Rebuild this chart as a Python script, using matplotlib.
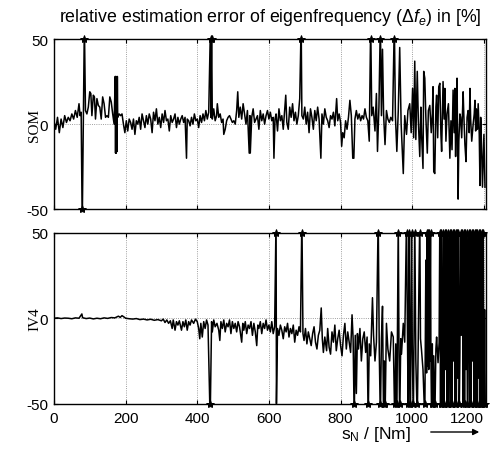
import numpy as np
import matplotlib
matplotlib.use('Agg')
import matplotlib.pyplot as plt

plt.rcParams['font.family'] = ['Liberation Sans', 'DejaVu Sans']
plt.rcParams['mathtext.fontset'] = 'custom'
plt.rcParams['mathtext.rm'] = 'Liberation Sans'
plt.rcParams['mathtext.it'] = 'Liberation Sans:italic'
plt.rcParams['axes.unicode_minus'] = False

# relative error of the eigenfrequency estimate, method SOM  (x in Nm, error in %)
som_nm = [0, 5, 10, 15, 20, 25, 30, 35, 40, 45, 50, 55, 60, 65, 70, 73, 76, 79, 82, 85, 88, 92,
          96, 100, 103, 106, 110, 113, 116, 120, 124, 128, 132, 136, 140, 144, 148, 152, 156,
          160, 164, 168, 171, 172, 173, 174, 175, 176, 177, 178, 182, 186, 190, 194, 198, 202,
          206, 210, 214, 218, 222, 226, 230, 234, 238, 242, 246, 250, 254, 258, 262, 266, 270,
          274, 278, 282, 286, 290, 294, 298, 302, 306, 310, 314, 318, 322, 326, 330, 334, 338,
          342, 346, 350, 354, 358, 362, 366, 370, 372, 376, 380, 384, 388, 392, 396, 400, 404,
          408, 412, 416, 420, 424, 428, 432, 437, 438, 440, 442, 446, 450, 454, 456, 460, 464,
          468, 472, 474, 478, 482, 486, 490, 494, 498, 502, 506, 510, 513, 516, 520, 524, 528,
          532, 536, 540, 545, 547, 548, 552, 556, 560, 564, 568, 572, 576, 580, 584, 588, 592,
          596, 600, 604, 608, 612, 614, 617, 620, 624, 628, 632, 636, 640, 644, 647, 650, 654,
          658, 662, 666, 670, 674, 678, 682, 686, 690, 692, 696, 700, 704, 708, 712, 716, 720,
          724, 728, 732, 736, 740, 745, 748, 752, 756, 760, 764, 768, 772, 776, 780, 784, 789,
          792, 796, 800, 803, 806, 810, 814, 818, 822, 826, 830, 834, 837, 840, 844, 848, 852,
          856, 860, 864, 868, 872, 876, 880, 884, 887, 891, 896, 900, 903, 907, 911, 914, 917,
          920, 924, 928, 932, 936, 940, 945, 950, 953, 957, 961, 965, 969, 975, 979, 984, 988,
          993, 997, 1001, 1004, 1007, 1010, 1014, 1017, 1021, 1024, 1026, 1030, 1032, 1035,
          1038, 1042, 1045, 1049, 1053, 1056, 1058, 1060, 1063, 1066, 1068, 1071, 1074, 1077,
          1080, 1082, 1086, 1089, 1091, 1094, 1097, 1101, 1105, 1108, 1111, 1114, 1117, 1119,
          1121, 1123, 1125, 1128, 1130, 1133, 1135, 1138, 1142, 1144, 1147, 1150, 1153, 1156,
          1159, 1161, 1163, 1166, 1170, 1173, 1175, 1177, 1179, 1182, 1184, 1187, 1189, 1191,
          1193, 1196, 1198, 1200, 1203]
som_err = [2, -3, 4, -5, 3, -2, 5, 1, 4, 2, 6, 3, 8, 4, 12, 5, 7, -60, 3, 60, 8, 6,
           10, 19, 18, 5, 17, 16, 3, 15, 11, 10, 3, 16, 12, 4, 5, 4, 16,
           13, 6, 0, 28, -17, 28, -17, 27, -16, 28, 4, 6, 5, 6, 0, -5, 2,
           -4, 3, 1, -3, 3, -6, 2, 0, 4, -3, 6, 2, -2, 5, 0, 6, 3,
           -5, 7, 2, 9, 0, 4, -2, 6, 1, 8, 2, 3, -4, 5, 1, 3, 6,
           -2, 4, 0, 3, 5, 1, 4, -20, 3, 2, -1, 4, 0, 6, 2, 3, -2,
           5, 1, 6, 2, 8, 3, 7, 60, 4, 60, 3, 9, 2, 5, 12, 4, 6,
           1, 3, -6, -3, 2, 4, 5, 3, 1, 2, 0, 8, 19, 4, 10, 3, 12,
           6, 0, 8, -17, 5, -17, 4, 9, 1, 3, 5, -3, 8, 2, 6, 0, 5,
           8, 3, 7, 2, 4, -20, 3, 6, -4, 9, 2, 5, -3, 8, 17, 1, -3,
           10, 4, 12, 2, 7, 0, 5, 15, 60, 5, 3, 10, 0, 7, -5, 9, 4,
           -3, 8, 2, 10, 3, -20, 6, 0, 9, 4, 2, -2, 5, 3, 7, -1, 15,
           2, 6, 1, -13, -5, -8, 2, -3, 4, 14, 5, -20, -20, 3, 8, 3, 6,
           2, 5, 3, 9, 4, 2, -10, 60, 5, 10, -4, 18, -16, 10, 60, 5, 44,
           6, -12, 8, 3, 1, 4, 2, 60, 5, -16, 8, 45, 0, -29, 5, -6, 8,
           12, -5, 21, -8, 37, -9, 31, 2, -19, 10, -6, -26, 31, 27,
           4, -17, 8, 11, -5, 6, 22, -28, -29, 10, 17, -8, 22, 24,
           -6, -16, 25, 3, 21, -10, 6, 12, -20, 2, -15, 20, -5, 21,
           -19, 8, 27, -44, -10, 6, 4, -8, 19, 5, -12, -22, 4, 8,
           -5, 21, 3, -10, 0, 6, 14, -4, 9, -3, 12, -6, -36, 4,
           -10, -37, -21, -6, -37]

# relative error of the eigenfrequency estimate, method IV4
iv4_nm = [0, 10, 20, 30, 40, 50, 60, 70, 78, 80, 90, 100, 110, 120, 130, 140, 150, 160, 170,
          180, 185, 190, 195, 200, 210, 220, 230, 240, 250, 260, 270, 280, 290, 300, 305, 310,
          315, 320, 325, 330, 333, 338, 342, 346, 350, 356, 360, 364, 368, 372, 376, 380, 384,
          390, 395, 400, 404, 407, 410, 414, 418, 422, 426, 430, 436, 440, 442, 446, 450, 455,
          460, 463, 466, 470, 474, 478, 482, 486, 490, 494, 498, 502, 506, 510, 514, 518, 524,
          527, 530, 534, 538, 542, 546, 550, 554, 558, 562, 566, 569, 572, 576, 580, 584, 588,
          592, 596, 600, 604, 608, 612, 616, 620, 621, 624, 628, 632, 636, 640, 644, 648, 652,
          656, 660, 664, 668, 672, 676, 680, 684, 688, 692, 695, 698, 702, 706, 710, 714, 718,
          722, 726, 730, 734, 738, 742, 746, 749, 752, 756, 761, 764, 768, 772, 776, 780, 784,
          788, 792, 796, 800, 804, 808, 812, 816, 820, 824, 828, 832, 835, 838, 841, 844, 847,
          850, 854, 858, 862, 866, 870, 874, 877, 880, 884, 889, 892, 896, 900, 905, 908, 911,
          914, 917, 920, 922, 924, 928, 932, 937, 942, 947, 951, 954, 957, 961, 963, 965, 968,
          970, 975, 979, 984, 987, 989, 991, 993, 995, 998, 1000, 1003, 1005, 1007, 1010, 1014,
          1017, 1021, 1023, 1026, 1030, 1035, 1038, 1040, 1041, 1042, 1043, 1044, 1046, 1047,
          1049, 1051, 1052, 1054, 1056, 1058, 1060, 1063, 1066, 1068, 1072, 1075, 1077, 1079,
          1081, 1083, 1085, 1087, 1089, 1091, 1093, 1095, 1097, 1099, 1101, 1103, 1105, 1107,
          1109, 1111, 1113, 1115, 1117, 1119, 1121, 1123, 1125, 1127, 1129, 1131, 1133, 1135,
          1137, 1140, 1142, 1144, 1146, 1148, 1150, 1152, 1154, 1156, 1158, 1160, 1162, 1164,
          1166, 1168, 1170, 1172, 1174, 1176, 1178, 1180, 1182, 1184, 1186, 1188, 1190, 1192,
          1194, 1196, 1198, 1200, 1202, 1204]
iv4_err = [0, 0.2, -0.2, 0.1, 0, -0.3, 0.2, 0, 2.5, 0.3, -0.2, 0.1, -0.4, 0, -0.3, 0.2, -0.1, 0.4, 0.2,
           1.2, 0.5, 1.5, 0.8, 0, -0.3, -0.5, -0.2, -0.8, -0.5, -1, -0.6, -1.2, -0.8, -1.5, -0.5, -2.5,
           -1, -3, -1.5, -6, -1, -7, -2, -4, -1.5, -7, -2, -5, -1, -7, -2, -4, -1,
           -3, -0.5, -2, -6, -12, -3, -11, -2, -6, -1, -4, -60, -2, -8, -1, -5, -3,
           -7, -13, -2, -6, -1, -8, -3, -5, -1, -9, -2, -6, -3, -8, -2, -5, -14,
           -3, -7, -2, -9, -4, -6, -2, -10, -3, -8, -16, -4, -6, -2, -9, -3, -6,
           -1, -7, -4, -8, -2, -9, -5, 60, -50, -6, -10, -4, -7, -12, -5, -8, -3,
           -11, -6, -9, -4, -14, -7, -10, -5, -8, 60, -9, -13, -6, -15, -8, -12, -16,
           -9, -5, -14, -18, -10, -7, 6, -12, -20, -11, -19, -6, -17, -21, -8, -14, -4,
           -19, -12, -7, -16, -22, -10, -3, -18, -8, -14, -20, 2, -12, -60, -10, -44, -9,
           -18, -6, -25, -12, -8, -20, -11, -60, -15, -22, 12, -10, -25, -14, 60, -20, -60,
           -12, 7, -60, -25, -60, -3, -18, -25, -8, -11, -60, -15, -60, 60, -20, -60, -12,
           -21, -3, -14, 60, -18, -60, 60, -22, -60, 60, -15, -60, -10, 60, -25, -60,
           -8, 60, -12, -19, -30, -60, 34, -32, 30, 60, -28, 60, -30, 60,
           -25, 60, -20, -60, -15, -60, -22, -60, -18, -11, -26, -14, 60, -60,
           60, -60, -20, 60, -60, 60, -30, 60, -60, 60, -60, -15, 60, -60,
           60, -60, 60, -25, 60, -60, 60, -60, 60, -35, 60, -60, -20, 60,
           -10, 60, -60, 60, -60, 60, -30, 60, -60, 3, 60, -60, 60, -60,
           60, -25, 60, -60, 60, -60, 60, -60, 60, -35, 60, -60, 60, -60,
           60, -60, 60, -60, 5, -60]

x_ticks = [0, 200, 400, 600, 800, 1000, 1200]
y_ticks = [-50, 0, 50]
panel_names = ['SOM', 'IV4']

fig = plt.figure(figsize=(4.92, 4.52), dpi=100)
ax1 = fig.add_axes([0.1096, 0.5347, 0.8776, 0.3768])
ax2 = fig.add_axes([0.1096, 0.1046, 0.8776, 0.3783])

for ax, xs, ys, name in [(ax1, som_nm, som_err, panel_names[0]),
                         (ax2, iv4_nm, iv4_err, panel_names[1])]:
    xs = np.array(xs)
    ys = np.array(ys, dtype=float)
    ax.plot(xs, ys, color='k', lw=1.1)
    hi = ys > 50
    lo = ys < -50
    ax.plot(xs[hi], np.full(hi.sum(), 50.0), ls='none', marker='*', ms=6,
            color='k', mew=0.7, clip_on=False)
    ax.plot(xs[lo], np.full(lo.sum(), -50.0), ls='none', marker='*', ms=6,
            color='k', mew=0.7, clip_on=False)
    ax.set_xlim(0, 1205)
    ax.set_ylim(-50, 50)
    ax.set_xticks(x_ticks)
    ax.set_yticks(y_ticks)
    ax.grid(True, ls=':', color='gray', lw=0.6)
    ax.tick_params(direction='in', top=True, right=True, length=3, labelsize=11, pad=4)
    ax.set_ylabel(name, family='Liberation Serif', fontsize=11)
    ax.yaxis.set_label_coords(-0.03, 0.5)
    for sp in ax.spines.values():
        sp.set_linewidth(1.0)

ax1.set_xticklabels([])
ax2.tick_params(axis='x', pad=5)
labels = ax2.get_xticklabels()
labels[-1].set_horizontalalignment('right')

fig.text(0.549, 0.962, 'relative estimation error of eigenfrequency ($\\Delta f_e$) in [%]',
         ha='center', va='center', fontsize=12.8)
fig.text(0.764, 0.038, '$\\mathrm{s_N}$ / [Nm]', ha='center', va='center', fontsize=12.5)
fig.add_artist(matplotlib.patches.FancyArrowPatch((428 / 492, 1 - 433 / 452), (482 / 492, 1 - 433 / 452),
                                                  transform=fig.transFigure, arrowstyle='-|>',
                                                  mutation_scale=9, color='k', lw=1))

fig.savefig('out.png', dpi=100)
